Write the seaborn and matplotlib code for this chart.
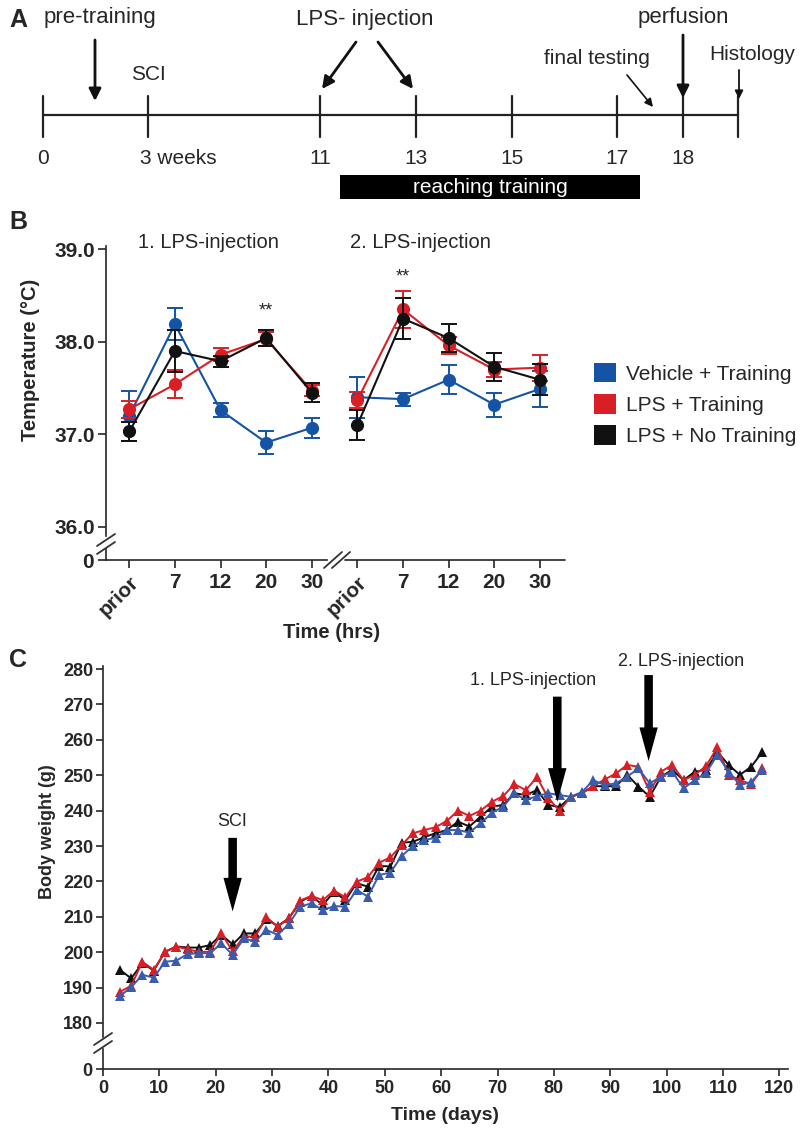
import numpy as np
import pandas as pd
import matplotlib
matplotlib.use("Agg")
import matplotlib.pyplot as plt
from matplotlib.patches import Patch, Rectangle
from matplotlib.lines import Line2D
import seaborn as sns

# ---------------- Panel B data (temperature, mean +- SEM) ----------------
time_labels = ["prior", "7", "12", "20", "30"]
groups = ["Vehicle + Training", "LPS + Training", "LPS + No Training"]

veh_inj1 = [37.20, 38.19, 37.26, 36.91, 37.07]
veh_inj1_err = [0.27, 0.17, 0.075, 0.12, 0.11]
lps_inj1 = [37.27, 37.54, 37.86, 38.03, 37.47]
lps_inj1_err = [0.09, 0.15, 0.07, 0.08, 0.06]
nt_inj1 = [37.03, 37.90, 37.79, 38.04, 37.45]
nt_inj1_err = [0.10, 0.23, 0.06, 0.09, 0.10]

veh_inj2 = [37.40, 37.38, 37.59, 37.32, 37.49]
veh_inj2_err = [0.22, 0.07, 0.16, 0.13, 0.19]
lps_inj2 = [37.37, 38.35, 37.96, 37.70, 37.72]
lps_inj2_err = [0.09, 0.20, 0.09, 0.08, 0.14]
nt_inj2 = [37.10, 38.25, 38.04, 37.73, 37.59]
nt_inj2_err = [0.16, 0.22, 0.15, 0.15, 0.17]

# ---------------- Panel C data (body weight) ----------------
days = [3, 5, 7, 9, 11, 13, 15, 17, 19, 21, 23, 25, 27, 29, 31, 33, 35, 37, 39, 41,
        43, 45, 47, 49, 51, 53, 55, 57, 59, 61, 63, 65, 67, 69, 71, 73, 75, 77, 79,
        81, 83, 85, 87, 89, 91, 93, 95, 97, 99, 101, 103, 105, 107, 109, 111, 113, 115, 117]
bw_vehicle = [187.6, 190.1, 193.6, 192.8, 197.3, 197.6, 199.5, 199.7, 199.7, 202.5,
              199.2, 203.9, 203.0, 206.3, 204.9, 208.0, 212.9, 213.8, 211.9, 213.0,
              212.9, 217.6, 215.7, 221.8, 222.5, 227.2, 230.0, 231.7, 232.3, 234.5,
              234.5, 233.8, 236.4, 239.4, 241.1, 244.9, 243.0, 244.1, 244.9,
              244.4, 243.9, 245.3, 248.6, 247.2, 247.7, 249.6, 251.9, 247.7, 249.6,
              251.0, 246.3, 248.6, 250.7, 255.7, 251.0, 247.2, 248.1, 251.6]
bw_lps_train = [188.8, 190.5, 197.3, 195.0, 200.1, 201.6, 200.8, 200.1, 200.1, 205.3,
                200.3, 204.4, 204.4, 209.9, 207.2, 209.6, 214.6, 215.9, 214.7, 217.4,
                215.5, 219.9, 221.2, 225.3, 226.8, 230.3, 233.6, 234.5, 235.3, 237.1,
                240.0, 238.5, 240.0, 242.5, 244.1, 247.5, 245.8, 249.4, 243.5,
                240.0, 243.9, 244.9, 246.9, 248.8, 250.5, 252.9, 252.4, 245.3, 251.0,
                252.9, 248.6, 250.1, 252.6, 257.9, 250.1, 248.6, 247.5, 251.9]
bw_lps_notrain = [195.0, 192.6, 196.9, 194.8, 200.1, 201.6, 201.3, 201.3, 202.0, 204.9,
                  202.2, 205.3, 205.3, 209.3, 207.4, 209.6, 214.3, 215.9, 213.3, 217.1,
                  214.7, 219.5, 218.5, 224.4, 224.2, 230.9, 231.2, 232.5, 233.6, 234.5,
                  236.9, 235.5, 238.3, 241.1, 241.6, 244.9, 244.4, 245.8, 241.6,
                  241.0, 243.9, 245.0, 246.9, 246.9, 246.9, 250.1, 246.8, 243.9, 249.6,
                  251.5, 248.6, 251.0, 251.5, 256.6, 252.9, 250.1, 252.4, 256.6]

colors_B = {"Vehicle + Training": "#1553a5", "LPS + Training": "#d91f26", "LPS + No Training": "#111111"}
colors_C = {"Vehicle + Training": "#3a5cae", "LPS + Training": "#d91f26", "LPS + No Training": "#111111"}

sns.set_theme(style="ticks")
plt.rcParams["font.family"] = ["Liberation Sans", "DejaVu Sans"]
plt.rcParams["axes.linewidth"] = 1.2

W, H = 800, 1137
fig = plt.figure(figsize=(W / 100, H / 100), dpi=100)
fig.patch.set_facecolor("white")


def fx(px):
    return px / W


def fy(py):
    return 1 - py / H


def break_mark(xc, yc, horizontal=False):
    # two short slanted strokes drawn in figure coordinates ("//")
    for off in (-4, 4):
        if horizontal:
            xs = [xc + off - 9, xc + off + 9]
            ys = [yc + 8, yc - 8]
        else:
            xs = [xc - 9, xc + 9]
            ys = [yc + off + 6, yc + off - 6]
        fig.add_artist(Line2D([fx(x) for x in xs], [fy(y) for y in ys],
                              color="#333333", lw=1.3, transform=fig.transFigure))


# ======================= Panel A : schematic timeline =======================
narrow = ["Liberation Sans Narrow", "Liberation Sans", "DejaVu Sans"]
axA = fig.add_axes([0, fy(205), 1, 205 / H])
axA.set_xlim(0, W)
axA.set_ylim(205, 0)
axA.axis("off")

tl_x = [43, 148, 320, 416, 512, 617, 683, 738]
tl_labels = ["0", "3 weeks", "11", "13", "15", "17", "18", ""]
axA.plot([tl_x[0], tl_x[-1]], [115, 115], color="#222222", lw=1.6)
for x, lab in zip(tl_x, tl_labels):
    axA.plot([x, x], [96, 137], color="#222222", lw=1.6)
    if lab == "3 weeks":
        axA.text(x - 8, 158, lab, ha="left", va="center", fontsize=15, family=narrow)
    elif lab:
        axA.text(x, 158, lab, ha="center", va="center", fontsize=15, family=narrow)

axA.text(18, 20, "A", ha="center", va="center", fontsize=18, fontweight="bold")
axA.text(100, 18, "pre-training", ha="center", va="center", fontsize=16, family=narrow)
axA.text(148, 75, "SCI", ha="center", va="center", fontsize=15, family=narrow)
axA.text(365, 20, "LPS- injection", ha="center", va="center", fontsize=16, family=narrow)
axA.text(597, 58, "final testing", ha="center", va="center", fontsize=15, family=narrow)
axA.text(683, 18, "perfusion", ha="center", va="center", fontsize=16, family=narrow)
axA.text(752, 55, "Histology", ha="center", va="center", fontsize=15, family=narrow)

arr = dict(arrowstyle="-|>", color="#111111", lw=2.0, mutation_scale=18, shrinkA=0, shrinkB=0)
axA.annotate("", xy=(95, 101), xytext=(95, 40), arrowprops=arr)
axA.annotate("", xy=(322, 89), xytext=(356, 42), arrowprops=arr)
axA.annotate("", xy=(413, 89), xytext=(378, 42), arrowprops=arr)
axA.annotate("", xy=(683, 98), xytext=(683, 35), arrowprops=arr)
axA.annotate("", xy=(653, 107), xytext=(627, 75),
             arrowprops=dict(arrowstyle="-|>", color="#111111", lw=1.2, mutation_scale=12,
                             shrinkA=0, shrinkB=0))
axA.annotate("", xy=(739, 99), xytext=(739, 70),
             arrowprops=dict(arrowstyle="-|>", color="#111111", lw=1.3, mutation_scale=12,
                             shrinkA=0, shrinkB=0))
axA.add_patch(Rectangle((340, 175), 300, 24, facecolor="black", edgecolor="none"))
axA.text(490, 187.5, "reaching training", ha="center", va="center", fontsize=15,
         color="white", family=narrow)

# ======================= Panel B : temperature =======================
rows = []
series_B = {
    "Vehicle + Training": [(veh_inj1, veh_inj1_err), (veh_inj2, veh_inj2_err)],
    "LPS + Training": [(lps_inj1, lps_inj1_err), (lps_inj2, lps_inj2_err)],
    "LPS + No Training": [(nt_inj1, nt_inj1_err), (nt_inj2, nt_inj2_err)],
}
for g, injs in series_B.items():
    for k, (vals, errs) in enumerate(injs):
        for i, (v, e) in enumerate(zip(vals, errs)):
            rows.append(dict(group=g, inj=k + 1, pos=i + 5 * k, temp=v, err=e))
dfB = pd.DataFrame(rows)

axB = fig.add_axes([fx(106), fy(540.6), fx(565) - fx(106), (540.6 - 245.6) / H])
axB0 = fig.add_axes([fx(106), fy(560), fx(565) - fx(106), (560 - 540.6) / H])
for g in groups:
    sub = dfB[dfB.group == g]
    sns.lineplot(data=sub, x="pos", y="temp", units="inj", estimator=None, color=colors_B[g],
                 marker="o", markersize=9.5, markeredgewidth=0, lw=1.5, legend=False,
                 ax=axB, sort=False)
    axB.errorbar(sub.pos, sub.temp, yerr=sub.err, fmt="none", ecolor=colors_B[g],
                 elinewidth=1.4, capsize=5.5, capthick=1.4)

xl = (-0.51, 9.55)
axB.set_xlim(*xl)
axB.set_ylim(35.85, 39.04)
axB.set_yticks([36, 37, 38, 39])
axB.set_yticklabels(["36.0", "37.0", "38.0", "39.0"])
axB.set_xticks([])
axB.set_xlabel("")
axB.set_ylabel("")
for s in ("top", "right", "bottom"):
    axB.spines[s].set_visible(False)
axB.spines["left"].set_bounds(35.9, 39.04)
axB.tick_params(axis="y", direction="out", length=6, width=1.2, labelsize=15, pad=2)
axB.patch.set_alpha(0)

axB0.set_xlim(*xl)
axB0.set_ylim(0, 1)
axB0.set_yticks([0])
axB0.set_yticklabels(["0"])
axB0.set_xticks(range(10))
axB0.set_xticklabels(time_labels * 2)
for s in ("top", "right"):
    axB0.spines[s].set_visible(False)
axB0.spines["left"].set_bounds(0, 0.55)
axB0.spines["bottom"].set_bounds(xl[0], 4.33)
axB0.plot([4.72, xl[1]], [0, 0], color="#222222", lw=1.2, clip_on=False)
axB0.tick_params(axis="both", direction="out", length=6, width=1.2, labelsize=15, pad=3)
axB0.patch.set_alpha(0)
for lab in axB0.get_xticklabels():
    if lab.get_text() == "prior":
        lab.set_rotation(45)
        lab.set_ha("right")
        lab.set_rotation_mode("anchor")
for a in (axB, axB0):
    for lab in a.get_xticklabels() + a.get_yticklabels():
        lab.set_fontweight("bold")
break_mark(106, 544)
break_mark(337, 560, horizontal=True)

axB.text(3, 38.33, "**", ha="center", va="center", fontsize=13)
axB.text(6, 38.70, "**", ha="center", va="center", fontsize=13)
fig.text(fx(208), fy(243), "1. LPS-injection", ha="center", va="center", fontsize=14.5)
fig.text(fx(420), fy(243), "2. LPS-injection", ha="center", va="center", fontsize=14.5)
fig.text(fx(18), fy(222), "B", ha="center", va="center", fontsize=18, fontweight="bold")
fig.text(fx(31), fy(360), "Temperature (\u00b0C)", rotation=90, ha="center", va="center",
         fontsize=14.5, fontweight="bold")
fig.text(fx(332), fy(633), "Time (hrs)", ha="center", va="center", fontsize=14.5, fontweight="bold")

handles = [Patch(facecolor=colors_B[g], edgecolor="none") for g in groups]
fig.legend(handles, groups, loc="upper left", bbox_to_anchor=(fx(594), fy(363)), frameon=False,
           fontsize=15, handlelength=1.05, handleheight=1.05, handletextpad=0.5,
           labelspacing=0.5, borderaxespad=0, borderpad=0)

# ======================= Panel C : body weight =======================
dfC = pd.concat([
    pd.DataFrame(dict(day=days, weight=bw_lps_notrain, group="LPS + No Training")),
    pd.DataFrame(dict(day=days, weight=bw_lps_train, group="LPS + Training")),
    pd.DataFrame(dict(day=days, weight=bw_vehicle, group="Vehicle + Training")),
], ignore_index=True)

axC = fig.add_axes([fx(103), fy(1044.2), fx(785) - fx(103), (1044.2 - 665.5) / H])
axC0 = fig.add_axes([fx(103), fy(1069), fx(785) - fx(103), (1069 - 1044.2) / H])
for g in ["LPS + No Training", "LPS + Training", "Vehicle + Training"]:
    sub = dfC[dfC.group == g]
    sns.lineplot(data=sub, x="day", y="weight", color=colors_C[g], marker="^", markersize=7.5,
                 markeredgewidth=0, lw=1.4, legend=False, ax=axC, estimator=None)

xlC = (0, 121)
axC.set_xlim(*xlC)
axC.set_ylim(174, 281)
axC.set_yticks(range(180, 281, 10))
axC.set_xticks([])
axC.set_xlabel("")
axC.set_ylabel("")
for s in ("top", "right", "bottom"):
    axC.spines[s].set_visible(False)
axC.spines["left"].set_bounds(176, 281)
axC.tick_params(axis="y", direction="out", length=5, width=1.2, labelsize=13, pad=2)
axC.patch.set_alpha(0)

axC0.set_xlim(*xlC)
axC0.set_ylim(0, 1)
axC0.set_yticks([0])
axC0.set_xticks(range(0, 121, 10))
for s in ("top", "right"):
    axC0.spines[s].set_visible(False)
axC0.spines["left"].set_bounds(0, 0.8)
axC0.spines["bottom"].set_bounds(0, 121.5)
axC0.tick_params(axis="both", direction="out", length=5, width=1.2, labelsize=13, pad=3)
axC0.patch.set_alpha(0)
for a in (axC, axC0):
    for lab in a.get_xticklabels() + a.get_yticklabels():
        lab.set_fontweight("bold")
break_mark(103, 1043)

big_arrow = dict(arrowstyle="simple,head_length=1.1,head_width=0.6,tail_width=0.28",
                 facecolor="black", edgecolor="none", mutation_scale=22, shrinkA=0, shrinkB=0)
axC.annotate("", xy=(23, 211.5), xytext=(23, 232.3), arrowprops=big_arrow, annotation_clip=False)
axC.text(23, 236.8, "SCI", ha="center", va="center", fontsize=13)
axC.annotate("", xy=(80.6, 242.5), xytext=(80.6, 272.2), arrowprops=big_arrow, annotation_clip=False)
axC.text(76.3, 276.9, "1. LPS-injection", ha="center", va="center", fontsize=13)
axC.annotate("", xy=(96.8, 254.0), xytext=(96.8, 278.3), arrowprops=big_arrow, annotation_clip=False)
axC.text(102.6, 282.0, "2. LPS-injection", ha="center", va="center", fontsize=13, clip_on=False)

fig.text(fx(18), fy(660), "C", ha="center", va="center", fontsize=18, fontweight="bold")
fig.text(fx(48), fy(832), "Body weight (g)", rotation=90, ha="center", va="center",
         fontsize=13, fontweight="bold")
fig.text(fx(445), fy(1116), "Time (days)", ha="center", va="center", fontsize=14, fontweight="bold")

fig.savefig("out.png", dpi=100, facecolor="white")
